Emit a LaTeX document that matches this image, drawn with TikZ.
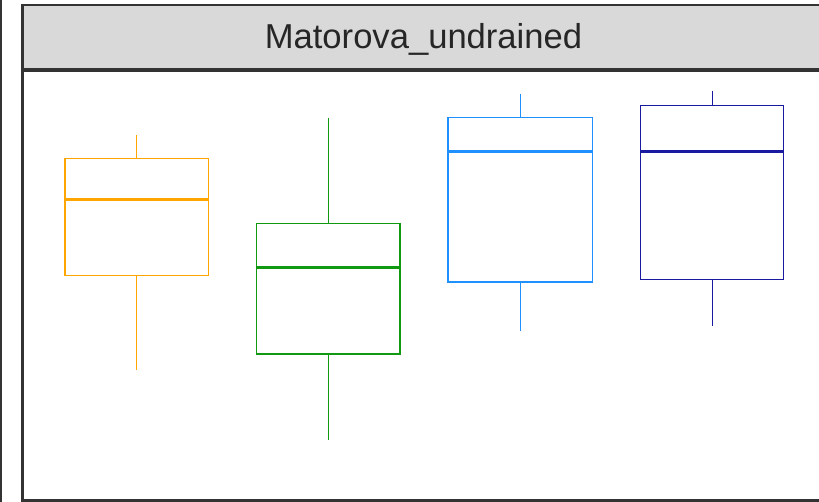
\documentclass[tikz,border=0pt]{standalone}
\usepackage{fontspec}
\setmainfont{Liberation Sans}
\usepackage{xcolor}
\usetikzlibrary{calc}
\definecolor{frame}{HTML}{333333}
\definecolor{strip}{HTML}{D9D9D9}
\definecolor{orng}{HTML}{FFA500}
\definecolor{grn}{HTML}{119A11}
\definecolor{blu}{HTML}{1E90FF}
\definecolor{dblu}{HTML}{1A1AA0}
\tikzset{
  border/.style={draw=frame, line width=3pt},
  whisk/.style={line width=1.5pt, line cap=butt},
  boxl/.style={line width=1.5pt, line join=miter},
  med/.style={line width=3pt},
  title/.style={text=black!85, font=\fontsize{34.6}{37}\selectfont, anchor=base},
}

\begin{document}
\begin{tikzpicture}[x=1pt, y=-1pt]
  \useasboundingbox (0,0) rectangle (819,502);
  \clip (0,0) rectangle (819,502);
  \fill[white] (0,0) rectangle (819,502);
  % left neighbour panel edge
  \draw[border, line width=2.5pt] (1.2,0) -- (1.2,502);
  % strip
  \fill[strip] (22.5,5.5) rectangle (830,70.5);
  \draw[border, line width=2pt] (22.5,5.5) -- (830,5.5);
  \draw[border, line width=4pt] (22.5,70.5) -- (830,70.5);
  \draw[border] (22.5,4.5) -- (22.5,500.5) -- (830,500.5);
  \node[title] (ttl) at (423.5,49) {Matorova\_undrained};
  % boxes: colour / centre / left / right / whisker top / q3 / median / q1 / whisker bottom
  \foreach \col/\xc/\xl/\xr/\wt/\qt/\md/\qb/\wb in {
      orng/136.5/65/208.3/135/158.3/199.5/275.7/370,
      grn/328.3/256.5/400/118/223.3/267.3/354/440,
      blu/520.3/448/592.5/94/117.5/152/282/331.5,
      dblu/712.7/640.7/783.7/91/105.5/151.3/279.3/326}
  {
    \draw[whisk, \col] (\xc,\wt) -- (\xc,\qt);
    \draw[whisk, \col] (\xc,\qb) -- (\xc,\wb);
    \draw[boxl, \col] (\xl,\qt) rectangle (\xr,\qb);
    \draw[med, \col] (\xl,\md) -- (\xr,\md);
  }
\end{tikzpicture}
\end{document}
